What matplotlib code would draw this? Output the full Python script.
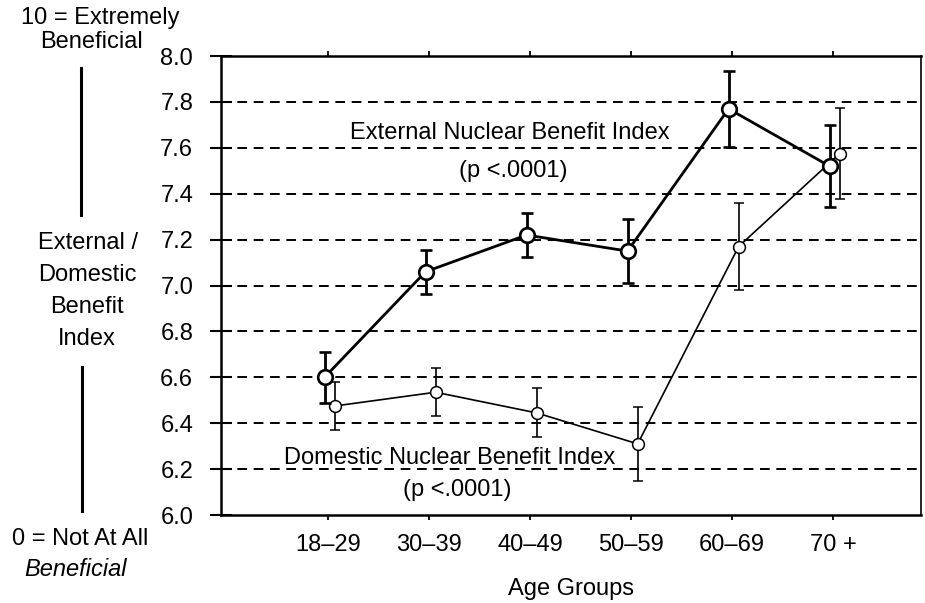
import matplotlib
matplotlib.use("Agg")
import matplotlib.pyplot as plt
from matplotlib.lines import Line2D

plt.rcParams['font.family'] = ['Liberation Sans', 'DejaVu Sans']

# Age groups and index means with error half-widths
age_groups = ["18–29", "30–39", "40–49", "50–59", "60–69", "70 +"]
external_mean = [6.60, 7.06, 7.22, 7.15, 7.77, 7.52]
external_err = [0.11, 0.095, 0.095, 0.14, 0.165, 0.18]
domestic_mean = [6.475, 6.535, 6.445, 6.31, 7.17, 7.575]
domestic_err = [0.105, 0.105, 0.107, 0.16, 0.19, 0.20]
y_ticks = [6.0, 6.2, 6.4, 6.6, 6.8, 7.0, 7.2, 7.4, 7.6, 7.8, 8.0]

FS = 17

fig = plt.figure(figsize=(9.25, 6.03), dpi=100)
ax = fig.add_axes([0.2389, 0.1459, 0.7568, 0.7612])

idx = list(range(len(age_groups)))
x_ext = [i - 0.035 for i in idx]
x_dom = [i + 0.065 for i in idx]

# dashed reference lines
for yv in y_ticks[1:-1]:
    ax.axhline(yv, color='black', lw=1.4, linestyle=(0, (5.0, 3.4)), zorder=1)

# domestic series (thin)
ax.errorbar(x_dom, domestic_mean, yerr=domestic_err, color='black', lw=1.2,
            elinewidth=1.2, capsize=3.6, capthick=1.2, marker='o', ms=8.5,
            mfc='white', mec='black', mew=1.1, zorder=3)
# external series (thick)
ax.errorbar(x_ext, external_mean, yerr=external_err, color='black', lw=2.0,
            elinewidth=2.0, capsize=4.3, capthick=2.0, marker='o', ms=10.5,
            mfc='white', mec='black', mew=1.9, zorder=4)

ax.set_xlim(-1.06, 5.87)
ax.set_ylim(6.0, 8.0)
ax.set_yticks(y_ticks)
ax.set_yticklabels([f"{v:.1f}" for v in y_ticks], fontsize=FS)
ax.set_xticks(idx)
ax.set_xticklabels(age_groups, fontsize=FS)
ax.tick_params(axis='y', direction='inout', length=16, width=1.5, pad=12)
ax.tick_params(axis='x', direction='out', length=3.5, width=1.3, pad=10)
ax.tick_params(axis='x', which='both', top=True, labeltop=False)

for side in ['left', 'bottom', 'top', 'right']:
    ax.spines[side].set_linewidth(1.8)
ax.spines['right'].set_linewidth(1.2)

ax.set_xlabel("Age Groups", fontsize=FS, labelpad=16)

# series annotations
ax.text(1.80, 7.665, "External Nuclear Benefit Index", fontsize=FS,
        ha='center', va='center', zorder=5)
ax.text(1.83, 7.50, "(p <.0001)", fontsize=FS, ha='center', va='center', zorder=5)
ax.text(1.20, 6.25, "Domestic Nuclear Benefit Index", fontsize=FS,
        ha='center', va='center', zorder=5)
ax.text(1.28, 6.11, "(p <.0001)", fontsize=FS, ha='center', va='center', zorder=5)

# scale description on the left
W, H = 925.0, 603.0
def ft(x, y, s, **kw):
    fig.text(x / W, 1 - y / H, s, ha='center', va='center', fontsize=FS, **kw)

ft(100, 18, "10 = Extremely")
ft(91, 42, "Beneficial")
ft(88, 243, "External /")
ft(87, 275, "Domestic")
ft(87, 307, "Benefit")
ft(87, 339, "Index")
ft(80, 539, "0 = Not At All")
ft(76, 569, "Beneficial", style='italic')

fig.add_artist(Line2D([81 / W, 81 / W], [1 - 68 / H, 1 - 215 / H],
                      color='black', lw=2.2, transform=fig.transFigure))
fig.add_artist(Line2D([82 / W, 82 / W], [1 - 367 / H, 1 - 511 / H],
                      color='black', lw=2.2, transform=fig.transFigure))

fig.savefig("out.png", dpi=100)
